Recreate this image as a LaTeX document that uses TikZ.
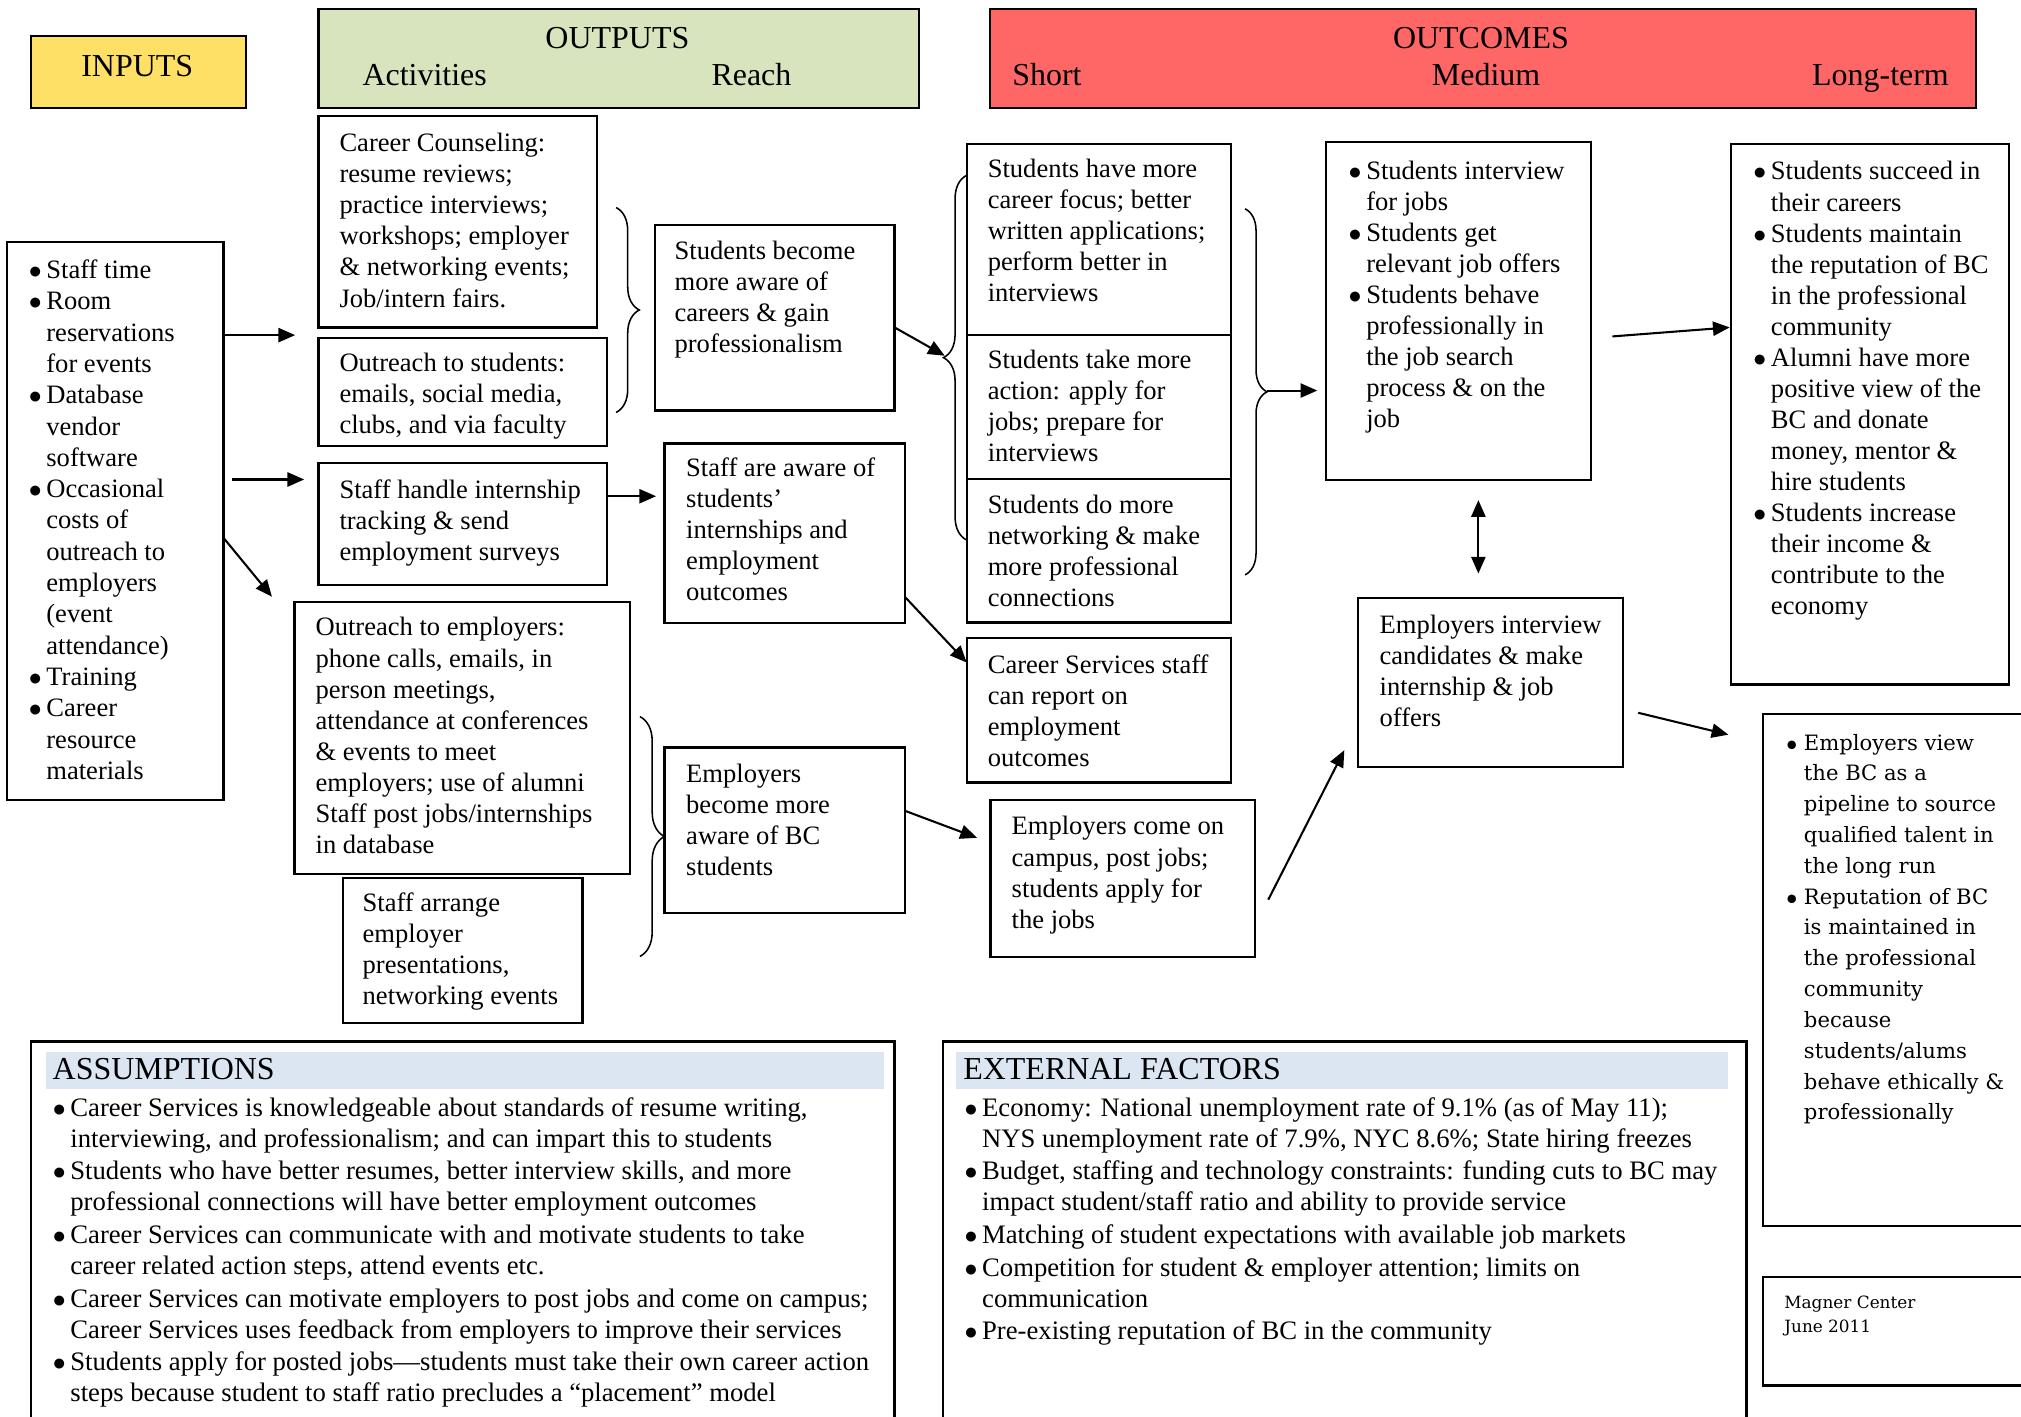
\documentclass[tikz,border=0pt]{standalone}
\usepackage{fontspec}
\setmainfont{Liberation Serif}
\newfontfamily\cent{DejaVu Serif}
\usetikzlibrary{arrows.meta,fit,decorations.pathreplacing}
\definecolor{inY}{RGB}{255,224,102}
\definecolor{outG}{RGB}{215,228,189}
\definecolor{ocR}{RGB}{255,102,102}
\definecolor{hdB}{RGB}{220,230,242}
\newcommand{\lns}[1]{\begin{tabular}[t]{@{}l@{}}#1\end{tabular}}
\newcommand{\bu}{\makebox[6.8pt][l]{$\bullet$}}
\newcommand{\ii}{\hspace*{6.8pt}}
\begin{document}
\begin{tikzpicture}[x=0.5pt,y=-0.5pt,
  box/.style={draw, line width=0.9pt, inner sep=0pt},
  band/.style={fill=hdB, draw=none, inner sep=0pt},
  txt/.style={anchor=base west, inner sep=0pt, font=\fontsize{10.3pt}{12.05pt}\selectfont},
  hd/.style={anchor=base, inner sep=0pt, font=\fontsize{12.4pt}{14pt}\selectfont},
  arr/.style={-{Triangle[length=6.5pt,width=5.5pt]}, line width=0.8pt},
  darr/.style={{Triangle[length=6.5pt,width=5.5pt]}-{Triangle[length=6.5pt,width=5.5pt]}, line width=0.8pt},
  brc/.style={decorate, decoration={brace, amplitude=#1}, line width=0.6pt}
]
\fill[white] (0,0) rectangle (1568,1099);
\useasboundingbox (0,0) rectangle (1568,1099);

% ---------- headers ----------
\node[box, fill=inY, fit={(24,28) (191,84)}] (inH) {};
\node[hd] (inH-t) at (106.5,59) {INPUTS};
\node[box, fill=outG, fit={(247,7) (713,84)}] (outH) {};
\node[hd] (outH-t) at (479,37.5) {OUTPUTS};
\node[hd] (act) at (329.5,66.7) {Activities};
\node[hd] (reach) at (583,66.7) {Reach};
\node[box, fill=ocR, fit={(768,7) (1533,84)}] (ocH) {};
\node[hd] (ocH-t) at (1149,37.5) {OUTCOMES};
\node[hd, anchor=base west] (short) at (785,66.7) {Short};
\node[hd] (medium) at (1153,66.7) {Medium};
\node[hd, anchor=base east] (long) at (1512.4,66.7) {Long-term};

% ---------- inputs ----------
\node[box, fit={(5.5,187.5) (173.5,620.5)}] (inp) {};
\node[txt, font=\fontsize{10.3pt}{12.15pt}\selectfont] (inp-t) at (22,216) {\lns{\bu Staff time\\ \bu Room\\ \ii reservations\\ \ii for events\\ \bu Database\\ \ii vendor\\ \ii software\\ \bu Occasional\\ \ii costs of\\ \ii outreach to\\ \ii employers\\ \ii (event\\ \ii attendance)\\ \bu Training\\ \bu Career\\ \ii resource\\ \ii materials}};

% ---------- activities ----------
\node[box, fit={(247,90) (463,254)}] (cc) {};
\node[txt] (cc-t) at (263,117.7) {\lns{Career Counseling:\\ resume reviews;\\ practice interviews;\\ workshops; employer\\ \& networking events;\\ Job/intern fairs.}};
\node[box, fit={(247,262) (471,346)}] (os) {};
\node[txt] (os-t) at (263,288.5) {\lns{Outreach to students:\\ emails, social media,\\ clubs, and via faculty}};
\node[box, fit={(247,359) (471,454)}] (sh) {};
\node[txt] (sh-t) at (263,386.5) {\lns{Staff handle internship\\ tracking \& send\\ employment surveys}};
\node[box, fit={(228.6,467) (489,678)}] (oe) {};
\node[txt] (oe-t) at (244.5,493.4) {\lns{Outreach to employers:\\ phone calls, emails, in\\ person meetings,\\ attendance at conferences\\ \& events to meet\\ employers; use of alumni\\ Staff post jobs/internships\\ in database}};
\node[box, fit={(266,681) (452,793.5)}] (sa) {};
\node[txt] (sa-t) at (281,707.3) {\lns{Staff arrange\\ employer\\ presentations,\\ networking events}};

% ---------- reach ----------
\node[box, fit={(508,174.6) (694,318.6)}] (sb) {};
\node[txt] (sb-t) at (523,201.2) {\lns{Students become\\ more aware of\\ careers \& gain\\ professionalism}};
\node[box, fit={(515.6,344) (702,483.6)}] (sw) {};
\node[txt] (sw-t) at (532,369.8) {\lns{Staff are aware of\\ students’\\ internships and\\ employment\\ outcomes}};
\node[box, fit={(515.6,580) (702,708.5)}] (eb) {};
\node[txt] (eb-t) at (532,607.2) {\lns{Employers\\ become more\\ aware of BC\\ students}};

% ---------- short ----------
\node[box, fit={(750,111.7) (955,260)}] (s1) {};
\node[txt] (s1-t) at (766,137.8) {\lns{Students have more\\ career focus; better\\ written applications;\\ perform better in\\ interviews}};
\node[box, fit={(750,260) (955,371.8)}] (s2) {};
\node[txt] (s2-t) at (766,285.8) {\lns{Students take more\\ action: apply for\\ jobs; prepare for\\ interviews}};
\node[box, fit={(750,371.8) (955,483)}] (s3) {};
\node[txt] (s3-t) at (766,398.2) {\lns{Students do more\\ networking \& make\\ more professional\\ connections}};
\node[box, fit={(750,495) (955,607)}] (cs) {};
\node[txt] (cs-t) at (766,522.4) {\lns{Career Services staff\\ can report on\\ employment\\ outcomes}};
\node[box, fit={(768.5,620.6) (973.5,742.6)}] (ec) {};
\node[txt] (ec-t) at (784.5,647.8) {\lns{Employers come on\\ campus, post jobs;\\ students apply for\\ the jobs}};

% ---------- medium ----------
\node[box, fit={(1029,110) (1234.3,372.4)}] (med) {};
\node[txt] (med-t) at (1046,139) {\lns{\bu Students interview\\ \ii for jobs\\ \bu Students get\\ \ii relevant job offers\\ \bu Students behave\\ \ii professionally in\\ \ii the job search\\ \ii process \& on the\\ \ii job}};
\node[box, fit={(1053.7,464) (1259,595)}] (ei) {};
\node[txt] (ei-t) at (1070,491.6) {\lns{Employers interview\\ candidates \& make\\ internship \& job\\ offers}};

% ---------- long-term ----------
\node[box, fit={(1342.8,111.8) (1558.7,531)}] (lt1) {};
\node[txt] (lt1-t) at (1360,139.6) {\lns{\bu Students succeed in\\ \ii their careers\\ \bu Students maintain\\ \ii the reputation of BC\\ \ii in the professional\\ \ii community\\ \bu Alumni have more\\ \ii positive view of the\\ \ii BC and donate\\ \ii money, mentor \&\\ \ii hire students\\ \bu Students increase\\ \ii their income \&\\ \ii contribute to the\\ \ii economy}};
\node[box, fit={(1367.7,554) (1580,951)}] (lt2) {};
\node[txt, font=\cent\fontsize{8.2pt}{11.95pt}\selectfont] (lt2-t) at (1385.6,582) {\lns{\bu Employers view\\ \ii the BC as a\\ \ii pipeline to source\\ \ii qualified talent in\\ \ii the long run\\ \bu Reputation of BC\\ \ii is maintained in\\ \ii the professional\\ \ii community\\ \ii because\\ \ii students/alums\\ \ii behave ethically \&\\ \ii professionally}};
\node[box, fit={(1367.7,991) (1580,1075)}] (mag) {};
\node[txt, font=\cent\fontsize{6.55pt}{9.5pt}\selectfont] (mag-t) at (1384,1015) {\lns{Magner Center\\ June 2011}};

% ---------- assumptions / external factors ----------
\node[box, fit={(24,808) (694,1110)}] (asm) {};
\node[band, fit={(36,816) (686,845)}] (asmH) {};
\node[hd, anchor=base west] (asmH-t) at (40.5,837.7) {ASSUMPTIONS};
\node[txt, font=\fontsize{10.35pt}{12pt}\selectfont] (asm-t) at (40.6,866) {\lns{\bu Career Services is knowledgeable about standards of resume writing,\\ \ii interviewing, and professionalism; and can impart this to students\\[0.7pt] \bu Students who have better resumes, better interview skills, and more\\ \ii professional connections will have better employment outcomes\\[0.7pt] \bu Career Services can communicate with and motivate students to take\\ \ii career related action steps, attend events etc.\\[0.7pt] \bu Career Services can motivate employers to post jobs and come on campus;\\ \ii Career Services uses feedback from employers to improve their services\\[0.7pt] \bu Students apply for posted jobs---students must take their own career action\\ \ii steps because student to staff ratio precludes a “placement” model}};
\node[box, fit={(731.4,808) (1355,1110)}] (ext) {};
\node[band, fit={(742,816) (1341,845)}] (extH) {};
\node[hd, anchor=base west] (extH-t) at (747,837.7) {EXTERNAL FACTORS};
\node[txt, font=\fontsize{10.35pt}{12pt}\selectfont] (ext-t) at (748,866) {\lns{\bu Economy: National unemployment rate of 9.1\% (as of May 11);\\ \ii NYS unemployment rate of 7.9\%, NYC 8.6\%; State hiring freezes\\[0.7pt] \bu Budget, staffing and technology constraints: funding cuts to BC may\\ \ii impact student/staff ratio and ability to provide service\\[0.7pt] \bu Matching of student expectations with available job markets\\[0.7pt] \bu Competition for student \& employer attention; limits on\\ \ii communication\\[0.7pt] \bu Pre-existing reputation of BC in the community}};

% ---------- braces ----------
\draw[brc=9pt] (478,161) -- (478,320);
\draw[brc=9.5pt] (496.5,556) -- (496.5,742);
\draw[brc=9pt] (750,419) -- (750,136);
\draw[brc=8.5pt] (966,162) -- (966,446);

% ---------- connectors ----------
\coordinate (a1s) at (174,260);   \coordinate (a1e) at (229,260);
\coordinate (a2s) at (180,372);   \coordinate (a2e) at (236,372);
\coordinate (a3s) at (174,418);   \coordinate (a3e) at (211,463);
\coordinate (a4s) at (471,385);   \coordinate (a4e) at (509,385);
\coordinate (a5s) at (694,254);   \coordinate (a5e) at (733,276);
\coordinate (a6s) at (702,463);   \coordinate (a6e) at (750,514);
\coordinate (a7s) at (702,629);   \coordinate (a7e) at (758,650);
\coordinate (a8s) at (984,698);   \coordinate (a8e) at (1043,582);
\coordinate (a9s) at (983,303);   \coordinate (a9e) at (1022,303);
\coordinate (a10s) at (1147,388); \coordinate (a10e) at (1147,445);
\coordinate (a11s) at (1251,261); \coordinate (a11e) at (1342,254);
\coordinate (a12s) at (1271,553); \coordinate (a12e) at (1341,570);
\draw[arr] (a1s) -- (a1e);
\draw[arr] (a2s) -- (a2e);
\draw[arr] (a3s) -- (a3e);
\draw[arr] (a4s) -- (a4e);
\draw[arr] (a5s) -- (a5e);
\draw[arr] (a6s) -- (a6e);
\draw[arr] (a7s) -- (a7e);
\draw[arr] (a8s) -- (a8e);
\draw[arr] (a9s) -- (a9e);
\draw[darr] (a10s) -- (a10e);
\draw[arr] (a11s) -- (a11e);
\draw[arr] (a12s) -- (a12e);
\end{tikzpicture}
\end{document}
